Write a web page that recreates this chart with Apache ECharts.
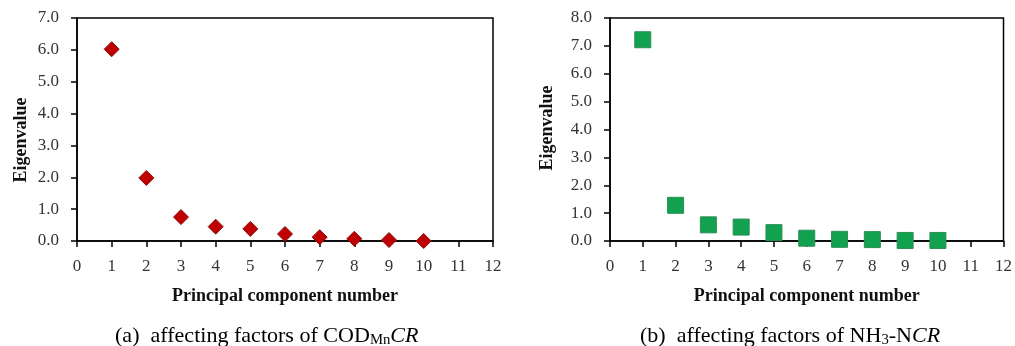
<!DOCTYPE html>
<html>
<head>
<meta charset="utf-8">
<script src="https://cdn.jsdelivr.net/npm/echarts@6/dist/echarts.min.js"></script>
<style>
    html, body { margin: 0; padding: 0; background: #fff; }
    #main { width: 1015px; height: 346px; }
</style>
</head>
<body>
<div id="main"></div>
<script>
// 主成分编号
let components = [1, 2, 3, 4, 5, 6, 7, 8, 9, 10];
// (a) COD_Mn CR 特征值
let eigenCod = [6.02, 1.98, 0.75, 0.45, 0.38, 0.22, 0.12, 0.07, 0.03, 0.0];
// (b) NH3-N CR 特征值
let eigenNh3 = [7.22, 1.28, 0.58, 0.50, 0.30, 0.10, 0.06, 0.05, 0.02, 0.02];

let serif = 'Liberation Serif';

function pairs(xs, ys) {
    return xs.map((x, i) => [x, ys[i]]);
}

function xAxisOf(gridIndex) {
    return {
        gridIndex: gridIndex,
        type: 'value',
        min: 0,
        max: 12,
        interval: 1,
        name: 'Principal component number',
        nameLocation: 'middle',
        nameGap: 46,
        nameTextStyle: { fontFamily: serif, fontWeight: 'bold', fontSize: 18, color: '#111' },
        axisLine: { lineStyle: { color: '#000', width: 1.5 } },
        axisTick: { show: true, length: 6, lineStyle: { color: '#000', width: 1.5 } },
        axisLabel: { fontFamily: serif, fontSize: 17, color: '#333', margin: 17 },
        splitLine: { show: false }
    };
}

function yAxisOf(gridIndex, max) {
    return {
        gridIndex: gridIndex,
        type: 'value',
        min: 0,
        max: max,
        interval: 1,
        axisLine: { lineStyle: { color: '#000', width: 1.5 } },
        axisTick: { show: true, length: 6, lineStyle: { color: '#000', width: 1.5 } },
        axisLabel: {
            fontFamily: serif, fontSize: 17, color: '#333', margin: 18,
            formatter: v => v.toFixed(1)
        },
        splitLine: { show: false }
    };
}

// 图注文字（带下标）
let captionRich = {
    n: { fontFamily: serif, fontSize: 21, color: '#111', lineHeight: 24, verticalAlign: 'bottom' },
    s: { fontFamily: serif, fontSize: 14, color: '#111', lineHeight: 18, verticalAlign: 'bottom' },
    i: { fontFamily: serif, fontSize: 21, fontStyle: 'italic', color: '#111', lineHeight: 24, verticalAlign: 'bottom' }
};

function yTitle(x, y) {
    return {
        type: 'text',
        x: x,
        y: y,
        rotation: Math.PI / 2,
        style: {
            text: 'Eigenvalue',
            fontFamily: serif, fontWeight: 'bold', fontSize: 18, fill: '#111',
            align: 'center', verticalAlign: 'middle'
        }
    };
}

var myChart = echarts.init(document.getElementById('main'));
let option = {
    backgroundColor: '#fff',
    animation: false,
    grid: [
        { left: 77, right: 522, top: 18, bottom: 105, show: true, borderColor: '#000', borderWidth: 1.5 },
        { left: 610, right: 8, top: 18, bottom: 105, show: true, borderColor: '#000', borderWidth: 1.5 }
    ],
    xAxis: [xAxisOf(0), xAxisOf(1)],
    yAxis: [yAxisOf(0, 7), yAxisOf(1, 8)],
    graphic: [
        yTitle(21, 140),
        yTitle(547, 128),
        {
            type: 'text',
            x: 115,
            y: 335,
            scaleX: 1.05,
            style: {
                text: '{n|(a)  affecting factors of COD}{s|Mn}{i|CR}',
                verticalAlign: 'middle',
                rich: captionRich
            }
        },
        {
            type: 'text',
            x: 640,
            y: 335,
            scaleX: 1.05,
            style: {
                text: '{n|(b)  affecting factors of NH}{s|3}{n|-N}{i|CR}',
                verticalAlign: 'middle',
                rich: captionRich
            }
        }
    ],
    series: [
        {
            type: 'scatter',
            xAxisIndex: 0,
            yAxisIndex: 0,
            z: 10,
            symbol: 'diamond',
            symbolSize: 15,
            itemStyle: { color: '#c00000', borderColor: '#8a1010', borderWidth: 1, opacity: 1 },
            data: pairs(components, eigenCod)
        },
        {
            type: 'scatter',
            xAxisIndex: 1,
            yAxisIndex: 1,
            z: 10,
            symbol: 'rect',
            symbolSize: 16,
            itemStyle: { color: '#12a14e', borderColor: '#2b8f55', borderWidth: 1, opacity: 1 },
            data: pairs(components, eigenNh3)
        }
    ]
};
myChart.setOption(option);
</script>
</body>
</html>
